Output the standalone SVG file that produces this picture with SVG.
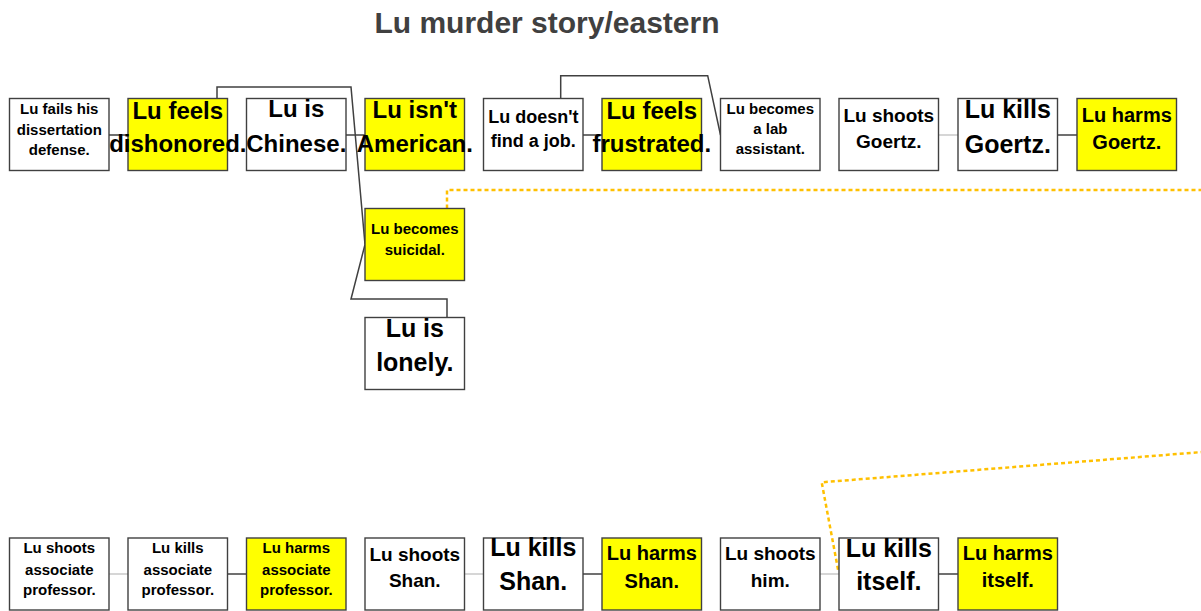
<svg xmlns="http://www.w3.org/2000/svg" width="1201" height="611" viewBox="0 0 1201 611">
<style>
.box{stroke:#404040;stroke-width:1.4;fill:#FFFFFF}
.y{fill:#FFFF00}
.t{font-family:"Liberation Sans",Arial,sans-serif;font-weight:bold;fill:#000;text-anchor:middle}
.s15{font-size:15px}.s18{font-size:18px}.s19{font-size:19px}.s20{font-size:20px}.s24{font-size:24px}.s25{font-size:25px}
.dk{stroke:#404040;stroke-width:1.5;fill:none}
.lt{stroke:#C8C8C8;stroke-width:1.5;fill:none}
.dot{stroke:#FFC000;stroke-width:2.5;stroke-dasharray:4 3;fill:none}
.title{font-family:"Liberation Sans",Arial,sans-serif;font-weight:bold;font-size:30px;fill:#404040;text-anchor:middle}
</style>
<rect width="1201" height="611" fill="#FFFFFF"/>
<text class="title" x="547" y="33">Lu murder story/eastern</text>
<g id="connectors">
<line class="dk" x1="109" y1="135" x2="128" y2="135"/>
<line class="dk" x1="346" y1="135" x2="365" y2="135"/>
<line class="dk" x1="583" y1="135" x2="602" y2="135"/>
<line class="lt" x1="938.5" y1="135" x2="958" y2="135"/>
<line class="dk" x1="1057.5" y1="135" x2="1077" y2="135"/>
<path class="dk" d="M217,98.5 V87 H351 L365,244.5"/>
<path class="dk" d="M447,317.5 V299 H351 L365,244.5"/>
<path class="dk" d="M560.7,98.5 V75.7 H707.7 L720.5,135"/>
<line class="lt" x1="109" y1="574" x2="128" y2="574"/>
<line class="dk" x1="227.5" y1="574" x2="246.5" y2="574"/>
<line class="lt" x1="464.5" y1="574" x2="483.5" y2="574"/>
<line class="dk" x1="583" y1="574" x2="602" y2="574"/>
<line class="lt" x1="820" y1="574" x2="839" y2="574"/>
<line class="dk" x1="938.5" y1="574" x2="958" y2="574"/>
<path class="dot" d="M447,208.5 V190 H1240 V449 L821.7,482.3 L838.5,572"/>
</g>
<g id="n1"><rect class="box" x="9.5" y="98.5" width="99.5" height="72"/><text class="t s15"><tspan x="59.3" y="114">Lu fails his</tspan><tspan x="59.3" y="134.5">dissertation</tspan><tspan x="59.3" y="155">defense.</tspan></text></g>
<g id="n2"><rect class="box y" x="128" y="98.5" width="99.5" height="72"/><text class="t s24"><tspan x="177.8" y="119">Lu feels</tspan><tspan x="177.8" y="151.5">dishonored.</tspan></text></g>
<g id="n3"><rect class="box" x="246.5" y="98.5" width="99.5" height="72"/><text class="t s24"><tspan x="296.3" y="117">Lu is</tspan><tspan x="296.3" y="151.5">Chinese.</tspan></text></g>
<g id="n4"><rect class="box y" x="365" y="98.5" width="99.5" height="72"/><text class="t s24"><tspan x="414.8" y="118">Lu isn't</tspan><tspan x="414.8" y="151.5">American.</tspan></text></g>
<g id="n5"><rect class="box" x="483.5" y="98.5" width="99.5" height="72"/><text class="t s18"><tspan x="533.3" y="123.3">Lu doesn't</tspan><tspan x="533.3" y="147.3">find a job.</tspan></text></g>
<g id="n6"><rect class="box y" x="602" y="98.5" width="99.5" height="72"/><text class="t s24"><tspan x="651.8" y="119.3">Lu feels</tspan><tspan x="651.8" y="151.7">frustrated.</tspan></text></g>
<g id="n7"><rect class="box" x="720.5" y="98.5" width="99.5" height="72"/><text class="t s15"><tspan x="770.3" y="114.3">Lu becomes</tspan><tspan x="770.3" y="134.3">a lab</tspan><tspan x="770.3" y="154">assistant.</tspan></text></g>
<g id="n8"><rect class="box" x="839" y="98.5" width="99.5" height="72"/><text class="t s19"><tspan x="888.8" y="121.7">Lu shoots</tspan><tspan x="888.8" y="148.3">Goertz.</tspan></text></g>
<g id="n9"><rect class="box" x="958" y="98.5" width="99.5" height="72"/><text class="t s25"><tspan x="1007.8" y="118.3">Lu kills</tspan><tspan x="1007.8" y="153.3">Goertz.</tspan></text></g>
<g id="n10"><rect class="box y" x="1077" y="98.5" width="99.5" height="72"/><text class="t s20"><tspan x="1126.8" y="122.3">Lu harms</tspan><tspan x="1126.8" y="149">Goertz.</tspan></text></g>
<g id="n11"><rect class="box y" x="365" y="208.5" width="99.5" height="72"/><text class="t s15"><tspan x="414.8" y="234.3">Lu becomes</tspan><tspan x="414.8" y="255">suicidal.</tspan></text></g>
<g id="n12"><rect class="box" x="365" y="317.5" width="99.5" height="72"/><text class="t s25"><tspan x="414.8" y="336.7">Lu is</tspan><tspan x="414.8" y="370.7">lonely.</tspan></text></g>
<g id="n13"><rect class="box" x="9.5" y="538" width="99.5" height="72"/><text class="t s15"><tspan x="59.3" y="553.3">Lu shoots</tspan><tspan x="59.3" y="575">associate</tspan><tspan x="59.3" y="595">professor.</tspan></text></g>
<g id="n14"><rect class="box" x="128" y="538" width="99.5" height="72"/><text class="t s15"><tspan x="177.8" y="553.3">Lu kills</tspan><tspan x="177.8" y="575">associate</tspan><tspan x="177.8" y="595">professor.</tspan></text></g>
<g id="n15"><rect class="box y" x="246.5" y="538" width="99.5" height="72"/><text class="t s15"><tspan x="296.3" y="553.3">Lu harms</tspan><tspan x="296.3" y="575">associate</tspan><tspan x="296.3" y="595">professor.</tspan></text></g>
<g id="n16"><rect class="box" x="365" y="538" width="99.5" height="72"/><text class="t s19"><tspan x="414.8" y="560.7">Lu shoots</tspan><tspan x="414.8" y="586.7">Shan.</tspan></text></g>
<g id="n17"><rect class="box" x="483.5" y="538" width="99.5" height="72"/><text class="t s25"><tspan x="533.3" y="555.7">Lu kills</tspan><tspan x="533.3" y="590">Shan.</tspan></text></g>
<g id="n18"><rect class="box y" x="602" y="538" width="99.5" height="72"/><text class="t s20"><tspan x="651.8" y="560">Lu harms</tspan><tspan x="651.8" y="587.7">Shan.</tspan></text></g>
<g id="n19"><rect class="box" x="720.5" y="538" width="99.5" height="72"/><text class="t s19"><tspan x="770.3" y="560">Lu shoots</tspan><tspan x="770.3" y="586.7">him.</tspan></text></g>
<g id="n20"><rect class="box" x="839" y="538" width="99.5" height="72"/><text class="t s25"><tspan x="888.8" y="556.7">Lu kills</tspan><tspan x="888.8" y="590">itself.</tspan></text></g>
<g id="n21"><rect class="box y" x="958" y="538" width="99.5" height="72"/><text class="t s20"><tspan x="1007.8" y="560">Lu harms</tspan><tspan x="1007.8" y="586.7">itself.</tspan></text></g>
</svg>
